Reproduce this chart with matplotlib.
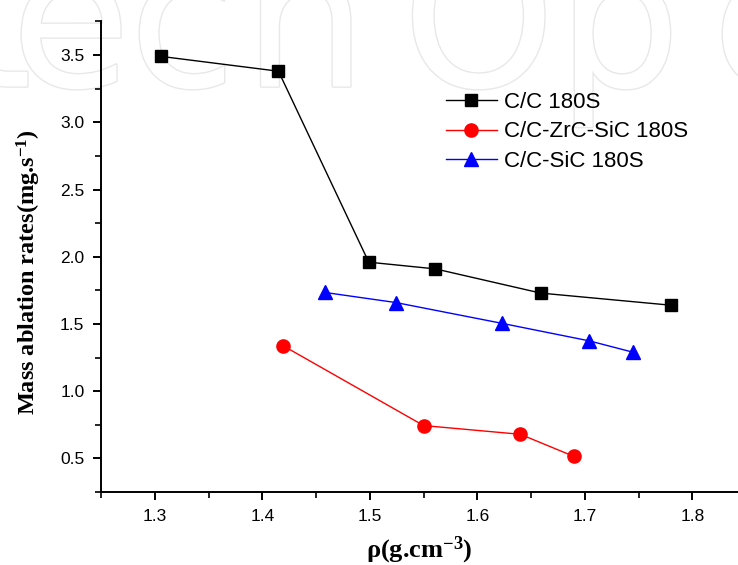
import matplotlib
matplotlib.use("Agg")
import matplotlib.pyplot as plt
import matplotlib.patheffects as pe
from matplotlib.ticker import MultipleLocator

# densities (g/cm3) and mass ablation rates (mg/s)
cc_rho = [1.306, 1.415, 1.499, 1.561, 1.659, 1.780]
cc_rate = [3.49, 3.38, 1.96, 1.91, 1.73, 1.64]

zrc_rho = [1.419, 1.55, 1.64, 1.69]
zrc_rate = [1.34, 0.745, 0.68, 0.515]

sic_rho = [1.458, 1.524, 1.623, 1.704, 1.745]
sic_rate = [1.735, 1.66, 1.505, 1.375, 1.29]

labels = ["C/C 180S", "C/C-ZrC-SiC 180S", "C/C-SiC 180S"]

# watermark letters and where they start (fraction of figure width)
wm_letters = ["t", "e", "c", "n", "O", "p", "e"]
wm_left = [-0.06, 0.015, 0.175, 0.33, 0.545, 0.755, 0.965]

plt.rcParams["font.family"] = ["Liberation Sans", "DejaVu Sans"]
plt.rcParams["mathtext.fontset"] = "custom"
plt.rcParams["mathtext.rm"] = "Liberation Serif:bold"

fig = plt.figure(figsize=(7.38, 5.65), dpi=100)

# faint outlined watermark behind the plot
for ch, x in zip(wm_letters, wm_left):
    fig.text(x, 0.847, ch, fontsize=140, color="white", zorder=-5, family="DejaVu Sans",
             ha="left", va="baseline",
             path_effects=[pe.withStroke(linewidth=2.0, foreground="#e8e8e8")])

ax = fig.add_axes([0.137, 0.129, 0.863, 0.833])
ax.patch.set_alpha(0)

ax.plot(cc_rho, cc_rate, "-s", color="black", lw=1, ms=8.5, label=labels[0])
ax.plot(zrc_rho, zrc_rate, "-o", color="red", lw=1, ms=9.5, label=labels[1])
ax.plot(sic_rho, sic_rate, "-^", color="blue", lw=1, ms=10.5, label=labels[2])

ax.set_xlim(1.25, 1.8425)
ax.set_ylim(0.25, 3.75)
ax.xaxis.set_major_locator(MultipleLocator(0.1))
ax.xaxis.set_minor_locator(MultipleLocator(0.05))
ax.yaxis.set_minor_locator(MultipleLocator(0.25))
ax.set_yticks([0.5, 1.0, 1.5, 2.0, 2.5, 3.0, 3.5])

for side in ["top", "right"]:
    ax.spines[side].set_visible(False)
for side in ["left", "bottom"]:
    ax.spines[side].set_linewidth(1.4)

ax.tick_params(which="major", direction="out", length=6, width=1.4, labelsize=12.5, pad=6)
ax.tick_params(which="minor", direction="out", length=4, width=1.2)

ax.set_ylabel(r"Mass ablation rates(mg.s$\mathrm{^{-1}}$)", family="Liberation Serif",
              fontweight="bold", fontsize=17.5)
ax.yaxis.set_label_coords(-0.092, 0.468)
ax.set_xlabel(r"ρ(g.cm$\mathrm{^{-3}}$)", family="Liberation Serif",
              fontweight="bold", fontsize=19, labelpad=8)

ax.legend(loc="upper left", bbox_to_anchor=(0.589, 0.857), bbox_transform=fig.transFigure,
          frameon=False, fontsize=16, handlelength=2.3, handletextpad=0.3,
          labelspacing=0.38, borderpad=0)

fig.savefig("out.png", dpi=100)
